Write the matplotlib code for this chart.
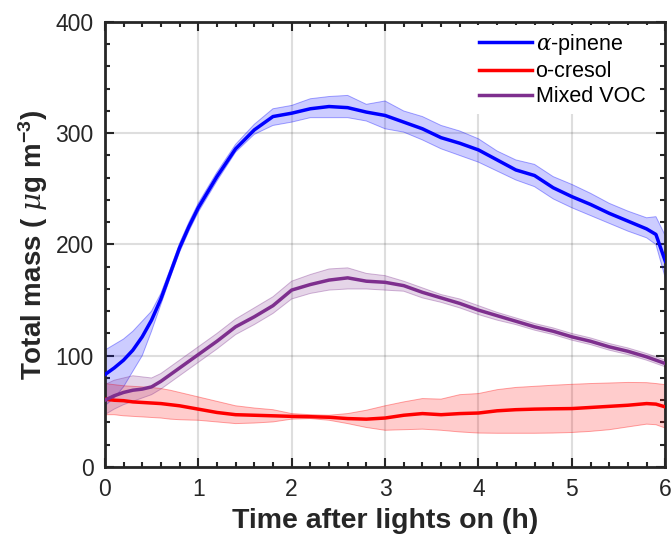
import numpy as np
import matplotlib
matplotlib.use("Agg")
import matplotlib.pyplot as plt
from matplotlib.ticker import MultipleLocator

plt.rcParams['font.family'] = ['Liberation Sans', 'DejaVu Sans']
plt.rcParams['mathtext.fontset'] = 'custom'
plt.rcParams['mathtext.rm'] = 'Liberation Sans:bold'
plt.rcParams['mathtext.bf'] = 'Liberation Sans:bold'
plt.rcParams['mathtext.it'] = 'DejaVu Serif:italic'

# time after lights on (h)
hours = [0, 0.1, 0.2, 0.3, 0.4, 0.5, 0.6, 0.7, 0.8, 0.9, 1.0, 1.2, 1.4, 1.6, 1.8, 2.0, 2.2,
         2.4, 2.6, 2.8, 3.0, 3.2, 3.4, 3.6, 3.8, 4.0, 4.2, 4.4, 4.6, 4.8, 5.0,
         5.2, 5.4, 5.6, 5.8, 5.9, 6.0]

# alpha-pinene
pinene = [83, 89, 96, 105, 117, 132, 151, 174, 197, 216, 233, 261, 286, 303, 315, 318, 322,
          324, 323, 319, 316, 310, 304, 296, 291, 285, 276, 267, 262, 251, 243,
          236, 228, 221, 214, 209, 185]
pinene_hi = [105, 110, 115, 122, 131, 140, 156, 178, 201, 220, 237, 265, 290, 308, 322, 325, 331,
             333, 334, 326, 329, 320, 315, 307, 302, 295, 284, 276, 272, 261, 254,
             246, 237, 230, 224, 225, 208]
pinene_lo = [55, 62, 72, 86, 100, 122, 146, 170, 193, 212, 229, 257, 283, 299, 307, 310, 314,
             314, 314, 311, 304, 301, 294, 286, 280, 274, 266, 258, 252, 241, 233,
             226, 219, 212, 206, 200, 170]

# o-cresol
cresol = [61, 60, 59.6, 58.5, 58, 57.5, 57, 56, 55, 53.5, 52, 49, 47, 46.5, 46, 45.5, 45.2,
          44.7, 43.5, 43, 44, 46.5, 48, 47, 48, 48.5, 50.5, 51.5, 52, 52.3, 52.5,
          53.5, 54.5, 55.5, 57, 56.5, 54]
cresol_hi = [75, 74, 73, 72.5, 72, 71.5, 70.5, 69, 67, 65, 63, 59, 55, 53, 51.5, 48, 47,
             46.5, 48, 51, 55, 58.5, 61.5, 61, 65, 66, 69.5, 71.5, 72.5, 73.5, 74.3,
             75, 75.5, 76, 75.8, 75, 74]
cresol_lo = [47, 47, 46, 45.5, 45, 44.5, 44, 43, 42.5, 42.2, 42, 40.5, 39, 39.5, 40.5, 43, 43.5,
             42, 39, 35.5, 33, 33.5, 34, 33, 31.5, 30.5, 30.3, 30.3, 30.3, 30.5, 31,
             32, 33.5, 36, 38.5, 38, 35]

# mixed VOC
mixed = [60, 64, 67, 69, 70, 72, 77, 83, 89, 95, 101, 113, 126, 135, 145, 159, 164,
         168, 170, 167, 166, 163, 157, 152, 147, 141, 136, 131, 126, 122, 117,
         113, 108, 104, 99, 96, 93]
mixed_hi = [74, 78, 80, 82, 81, 80, 84, 90, 96, 102, 108, 120, 133, 143, 153, 167, 173,
            178, 179, 174, 172, 167, 161, 155, 151, 145, 139, 134, 129, 125, 120,
            116, 111, 107, 102, 99, 96]
mixed_lo = [47, 52, 56, 59, 62, 65, 70, 76, 82, 88, 94, 106, 119, 128, 138, 151, 156,
            159, 160, 160, 159, 158, 152, 148, 143, 137, 132, 128, 123, 119, 114,
            110, 105, 101, 96, 93, 90]

blue = (0, 0, 1)
red = (1, 0, 0)
purple = (0.494, 0.184, 0.556)
dark = '#262626'

fig = plt.figure(figsize=(6.72, 5.43), dpi=100)
ax = fig.add_axes([0.156, 0.140, 0.834, 0.8195])

for mean, lo, hi, col, lab in [(pinene, pinene_lo, pinene_hi, blue, r'$\alpha$-pinene'),
                               (cresol, cresol_lo, cresol_hi, red, 'o-cresol'),
                               (mixed, mixed_lo, mixed_hi, purple, 'Mixed VOC')]:
    ax.fill_between(hours, lo, hi, facecolor=col, alpha=0.2, edgecolor='none', zorder=2)
    ax.plot(hours, lo, color=col, lw=0.7, alpha=0.35, zorder=2)
    ax.plot(hours, hi, color=col, lw=0.7, alpha=0.35, zorder=2)
    ax.plot(hours, mean, color=col, lw=2.5, label=lab, zorder=3)

ax.set_xlim(0, 6)
ax.set_ylim(0, 400)
ax.xaxis.set_major_locator(MultipleLocator(1))
ax.xaxis.set_minor_locator(MultipleLocator(0.2))
ax.yaxis.set_major_locator(MultipleLocator(100))
ax.yaxis.set_minor_locator(MultipleLocator(20))
ax.tick_params(which='both', direction='in', top=True, right=True,
               colors=dark, labelsize=16.5, width=1.5)
ax.tick_params(which='major', length=6.5, pad=8)
ax.tick_params(which='minor', length=3.5)
for s in ax.spines.values():
    s.set_linewidth(2)
    s.set_color(dark)
ax.grid(True, which='major', color='#262626', alpha=0.15, lw=1.5, zorder=0)
ax.set_axisbelow(True)

ax.set_xlabel('Time after lights on (h)', fontsize=20.5, fontweight='bold', color=dark, labelpad=5)
ax.set_ylabel(r'Total mass ( $\mu$g m$^{\mathrm{-3}}$)', fontsize=20, fontweight='bold',
              color=dark, labelpad=4)

leg = ax.legend(loc='upper right', bbox_to_anchor=(0.9875, 1.007), fontsize=15.5,
                handlelength=2.5, handletextpad=0.15, labelspacing=0.2,
                borderaxespad=0.3, borderpad=0.3, frameon=True, fancybox=False)
leg.get_frame().set_edgecolor('none')
leg.get_frame().set_facecolor('white')
leg.get_frame().set_alpha(1)
leg.set_zorder(5)

fig.savefig('out.png', dpi=100)
